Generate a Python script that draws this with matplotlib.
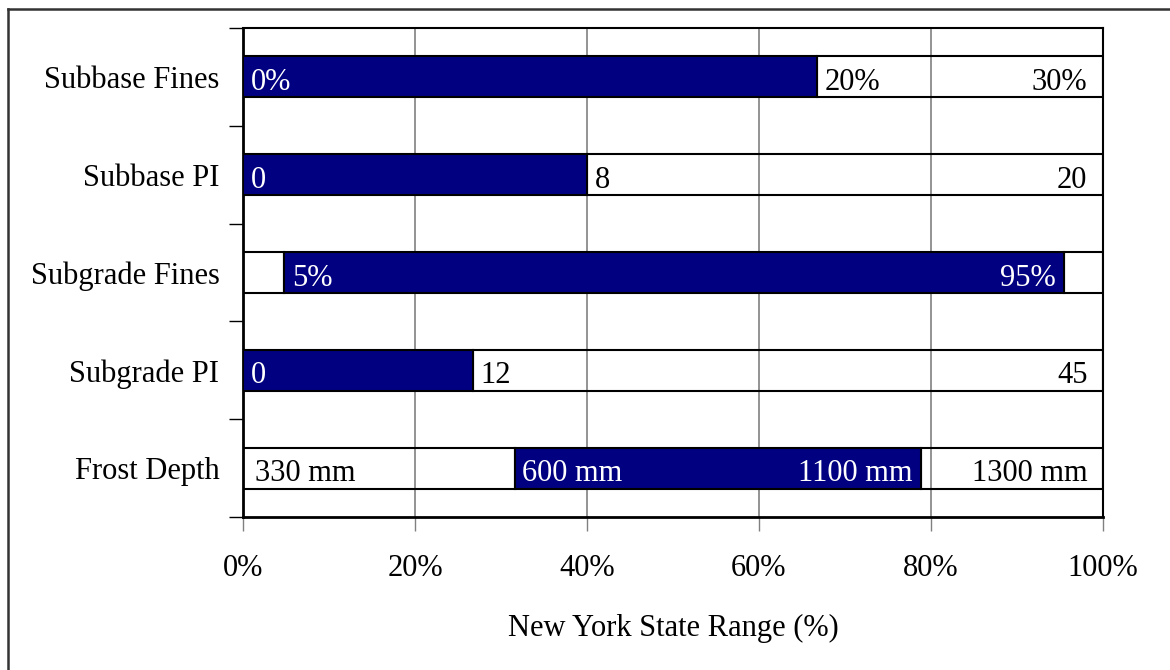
import matplotlib
matplotlib.use("Agg")
import matplotlib.pyplot as plt
from matplotlib.lines import Line2D
from matplotlib.ticker import MultipleLocator, FuncFormatter

plt.rcParams['font.family'] = ['Liberation Serif', 'DejaVu Serif']

categories = ["Subbase Fines", "Subbase PI", "Subgrade Fines", "Subgrade PI", "Frost Depth"]
# navy span within the New York State range, in percent of the full range
navy_start = [0.0, 0.0, 4.8, 0.0, 31.6]
navy_end = [66.7, 40.0, 95.5, 26.7, 78.8]
# value labels placed at the navy start, navy end, just after the navy span,
# at the far left and at the far right of each bar
lbl_navy_start = ["0%", "0", "5%", "0", "600 mm"]
lbl_navy_end = ["", "", "95%", "", "1100 mm"]
lbl_after_navy = ["20%", "8", "", "12", ""]
lbl_left = ["", "", "", "", "330 mm"]
lbl_right = ["30%", "20", "", "45", "1300 mm"]

NAVY = "#000080"
FS = 22

fig = plt.figure(figsize=(11.7, 6.7), dpi=100)
ax = fig.add_axes([0.2077, 0.2284, 0.735, 0.7298])

n = len(categories)
ypos = list(range(n))
h = 0.42
base = 0.135  # baseline offset of the in-bar labels below the bar centre

for i in ypos:
    s, e = navy_start[i], navy_end[i]
    # unfilled outline segments before and after the navy span
    if s > 0:
        ax.barh(i, s, left=0, height=h, facecolor='none', edgecolor='black', linewidth=1.5, zorder=3)
    if e < 100:
        ax.barh(i, 100 - e, left=e, height=h, facecolor='none', edgecolor='black', linewidth=1.5, zorder=3)
    ax.barh(i, e - s, left=s, height=h, facecolor=NAVY, edgecolor='black', linewidth=1.5, zorder=3)

    y = i + base
    kw = dict(fontsize=FS, va='baseline', zorder=5)
    if lbl_navy_start[i]:
        ax.text(s + 0.9, y, lbl_navy_start[i], color='white', ha='left', **kw)
    if lbl_navy_end[i]:
        ax.text(e - 1.0, y, lbl_navy_end[i], color='white', ha='right', **kw)
    if lbl_after_navy[i]:
        ax.text(e + 0.9, y, lbl_after_navy[i], color='black', ha='left', **kw)
    if lbl_left[i]:
        ax.text(1.4, y, lbl_left[i], color='black', ha='left', **kw)
    if lbl_right[i]:
        ax.text(98.2, y, lbl_right[i], color='black', ha='right', **kw)

ax.set_xlim(0, 100)
ax.set_ylim(n - 0.5, -0.5)

ax.xaxis.set_major_locator(MultipleLocator(20))
ax.xaxis.set_major_formatter(FuncFormatter(lambda v, p: f"{v:.0f}%"))
ax.tick_params(axis='x', which='major', length=10, width=1, direction='out', pad=17, labelsize=FS, color='#808080')
ax.grid(axis='x', color='#808080', linewidth=1.2, zorder=0)
ax.set_axisbelow(True)

ax.set_yticks(ypos)
ax.set_yticklabels(categories)
ax.set_yticks([k + 0.5 for k in range(-1, n)], minor=True)
ax.tick_params(axis='y', which='major', length=0, pad=17, labelsize=FS)
ax.tick_params(axis='y', which='minor', length=10, width=1, direction='out', color='black')

for side in ['left', 'bottom']:
    ax.spines[side].set_linewidth(2)
for side in ['top', 'right']:
    ax.spines[side].set_linewidth(1.5)

ax.set_xlabel("New York State Range (%)", fontsize=FS, labelpad=22)

# frame along the top and left edges of the figure
fig.add_artist(Line2D([0.0068, 0.0068], [0, 0.986], transform=fig.transFigure, color='#333333', linewidth=1.8))
fig.add_artist(Line2D([0.0068, 1.0], [0.986, 0.986], transform=fig.transFigure, color='#333333', linewidth=1.8))

fig.savefig("out.png", dpi=100)
